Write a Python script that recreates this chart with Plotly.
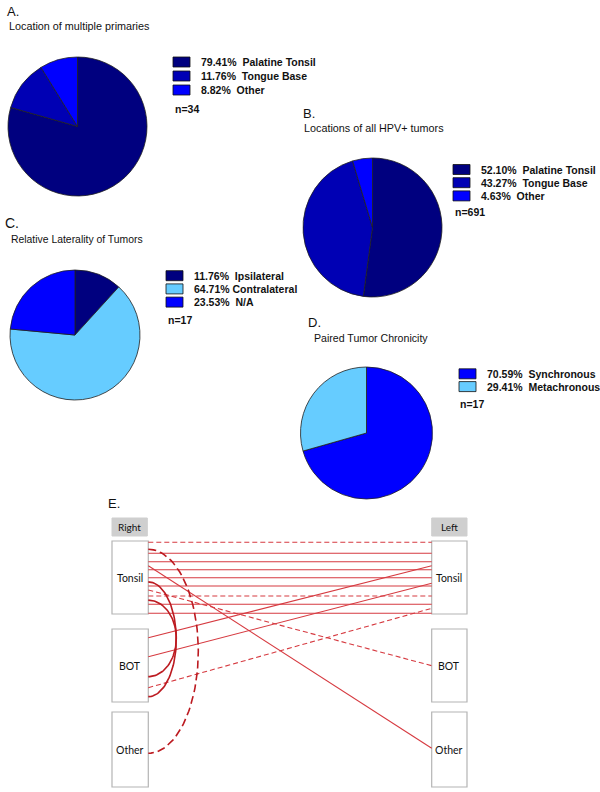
import math
import plotly.graph_objects as go

W, H = 600, 792

# ---------------- data ----------------
a_labels = ["Palatine Tonsil", "Tongue Base", "Other"]
a_values = [79.41, 11.76, 8.82]
a_n = 34

b_labels = ["Palatine Tonsil", "Tongue Base", "Other"]
b_values = [52.10, 43.27, 4.63]
b_n = 691

c_labels = ["Ipsilateral", "Contralateral", "N/A"]
c_values = [11.76, 64.71, 23.53]
c_n = 17

d_labels = ["Synchronous", "Metachronous"]
d_values = [70.59, 29.41]
d_n = 17

# Panel E: paired tumours. Start always on the right column; position = fraction down the box
e_from_site = ["Tonsil"] * 9 + ["BOT", "BOT", "BOT", "Tonsil", "Tonsil", "Tonsil", "Tonsil", "Tonsil"]
e_from_pos = [0.018, 0.168, 0.284, 0.393, 0.503, 0.616, 0.753, 0.867, 0.99,
              0.119, 0.379, 0.804, 0.671, 0.338, 0.56, 0.81, 0.114]
e_to_side = ["L"] * 9 + ["L", "L", "L", "L", "L", "R", "R", "R"]
e_to_site = ["Tonsil"] * 9 + ["Tonsil", "Tonsil", "Tonsil", "BOT", "Other", "BOT", "BOT", "Other"]
e_to_pos = [0.018, 0.168, 0.284, 0.393, 0.503, 0.616, 0.753, 0.867, 0.99,
            0.338, 0.579, 0.922, 0.503, 0.484, 0.927, 0.653, 0.55]
e_metachronous = [True, False, False, False, False, False, True, False, False,
                  False, False, True, True, False, False, False, True]
e_sites = ["Tonsil", "BOT", "Other"]

# ---------------- styling / layout ----------------
NAVY, MID, BRIGHT, LIGHT = "#00007f", "#0000b4", "#0000ff", "#66ccff"
FONT = "Liberation Sans, Arial, sans-serif"
EFONT = "Lato, Liberation Sans, sans-serif"

panels = [
    dict(labels=a_labels, values=a_values, n=a_n, colors=[NAVY, MID, BRIGHT],
         cx=77.5, cy=126.5, r=69.5, leg=(173, 62, 14), nx=173, ny=108.5,
         letter="A.", lx=5, ly=11, lsize=13, sub="Location of multiple primaries", sx=7, sy=26, ssize=10.8),
    dict(labels=b_labels, values=b_values, n=b_n, colors=[NAVY, MID, BRIGHT],
         cx=372.5, cy=227.5, r=69.5, leg=(453, 169.5, 13.2), nx=453, ny=211.5,
         letter="B.", lx=301, ly=113, lsize=13, sub="Locations of all HPV+ tumors", sx=302, sy=128, ssize=10.8),
    dict(labels=c_labels, values=c_values, n=c_n, colors=[NAVY, LIGHT, BRIGHT],
         cx=75, cy=335, r=65, leg=(166, 275.7, 13.2), nx=166, ny=320,
         letter="C.", lx=3, ly=223, lsize=14, sub="Relative Laterality of Tumors", sx=9, sy=239.5, ssize=10.4),
    dict(labels=d_labels, values=d_values, n=d_n, colors=[BRIGHT, LIGHT],
         cx=366.5, cy=433, r=66, leg=(459, 373.8, 12.8), nx=458, ny=404,
         letter="D.", lx=306, ly=322.5, lsize=13, sub="Paired Tumor Chronicity", sx=312, sy=337.5, ssize=10.6),
]

fig = go.Figure()
annotations = []
shapes = []

# legend squares (one bar trace) + texts
sq_y, sq_x, sq_base, sq_col = [], [], [], []
for p in panels:
    fig.add_trace(go.Pie(
        values=p["values"], labels=p["labels"], sort=False, direction="clockwise", rotation=0,
        textinfo="none", hoverinfo="skip", showlegend=False,
        marker=dict(colors=p["colors"], line=dict(color="#202020", width=0.8)),
        domain=dict(x=[(p["cx"] - p["r"]) / W, (p["cx"] + p["r"]) / W],
                    y=[1 - (p["cy"] + p["r"]) / H, 1 - (p["cy"] - p["r"]) / H]),
    ))
    lx0, ly0, step = p["leg"]
    for i, (lab, val, col) in enumerate(zip(p["labels"], p["values"], p["colors"])):
        yy = ly0 + i * step
        sq_y.append(yy); sq_x.append(17); sq_base.append(lx0); sq_col.append(col)
        sep = "\u00a0" if lab == "Contralateral" else "\u00a0\u00a0"
        annotations.append(dict(x=lx0 + 26, y=yy, xref="x", yref="y", xanchor="left", yanchor="middle",
                                text="<b>%.2f%%%s%s</b>" % (val, sep, lab), showarrow=False,
                                font=dict(family=FONT, size=10.5, color="#111")))
    annotations.append(dict(x=p["nx"], y=p["ny"], xref="x", yref="y", xanchor="left", yanchor="middle",
                            text="<b>n=%d</b>" % p["n"], showarrow=False,
                            font=dict(family=FONT, size=10.5, color="#111")))
    annotations.append(dict(x=p["lx"], y=p["ly"], xref="x", yref="y", xanchor="left", yanchor="middle",
                            text=p["letter"], showarrow=False,
                            font=dict(family=FONT, size=p["lsize"], color="#111")))
    annotations.append(dict(x=p["sx"], y=p["sy"], xref="x", yref="y", xanchor="left", yanchor="middle",
                            text=p["sub"], showarrow=False,
                            font=dict(family=FONT, size=p["ssize"], color="#111")))

fig.add_trace(go.Bar(orientation="h", y=sq_y, x=sq_x, base=sq_base, width=[10] * len(sq_y),
                     marker=dict(color=sq_col, line=dict(color="#101010", width=0.8)),
                     hoverinfo="skip", showlegend=False, xaxis="x", yaxis="y"))

# ---------------- panel E ----------------
box_top = {"Tonsil": 541, "BOT": 629, "Other": 712}
box_h = {"Tonsil": 73, "BOT": 73, "Other": 75}
R_X0, R_X1 = 112, 148.3
L_X0, L_X1 = 431.7, 467

for s in e_sites:
    for x0, x1 in ((R_X0, R_X1), (L_X0, L_X1)):
        shapes.append(dict(type="rect", xref="x", yref="y", x0=x0, x1=x1, y0=box_top[s], y1=box_top[s] + box_h[s],
                           line=dict(color="#b4b4b4", width=1.2), fillcolor="white", layer="below"))
        annotations.append(dict(x=(x0 + x1) / 2, y=box_top[s] + box_h[s] / 2, xref="x", yref="y",
                                text=s, showarrow=False, font=dict(family=EFONT, size=10.5, color="#111")))
for (x0, x1), t in (((R_X0, R_X1 - 1), "Right"), ((L_X0, L_X1), "Left")):
    shapes.append(dict(type="rect", xref="x", yref="y", x0=x0, x1=x1, y0=518, y1=536,
                       line=dict(color="#cfcfcf", width=1), fillcolor="#cfcfcf", layer="below"))
    annotations.append(dict(x=(x0 + x1) / 2, y=527, xref="x", yref="y", text=t, showarrow=False,
                            font=dict(family=EFONT, size=10, color="#111")))
annotations.append(dict(x=106, y=503, xref="x", yref="y", xanchor="left", text="E.", showarrow=False,
                        font=dict(family=FONT, size=13, color="#111")))

ARC_BULGE = {"BOT": 28, "Other": 50}
for fs, fp, side, ts, tp, meta in zip(e_from_site, e_from_pos, e_to_side, e_to_site, e_to_pos, e_metachronous):
    y0 = box_top[fs] + fp * box_h[fs]
    y1 = box_top[ts] + tp * box_h[ts]
    if side == "L":
        xs, ys = [R_X1, L_X0], [y0, y1]
        col, wid = "#d63a40", 1.1
        dash = "5px,3px" if meta else "solid"
    else:
        b = ARC_BULGE[ts]
        xs, ys = [], []
        for k in range(61):
            t = math.pi * k / 60
            xs.append(R_X1 + b * math.sin(t))
            ys.append((y0 + y1) / 2 - (y1 - y0) / 2 * math.cos(t))
        col, wid = "#bc1a20", 1.6
        dash = "8px,4px" if meta else "solid"
    fig.add_trace(go.Scatter(x=xs, y=ys, mode="lines", line=dict(color=col, width=wid, dash=dash),
                             hoverinfo="skip", showlegend=False, xaxis="x", yaxis="y"))

fig.update_layout(
    width=W, height=H, margin=dict(l=0, r=0, t=0, b=0),
    paper_bgcolor="white", plot_bgcolor="rgba(0,0,0,0)",
    xaxis=dict(range=[0, W], domain=[0, 1], visible=False, fixedrange=True),
    yaxis=dict(range=[H, 0], domain=[0, 1], visible=False, fixedrange=True),
    barmode="overlay", showlegend=False,
    annotations=annotations, shapes=shapes,
)
fig.write_html("out.html", config={"displayModeBar": False},
               post_script="document.body.style.margin='0';document.body.style.overflow='hidden';")
